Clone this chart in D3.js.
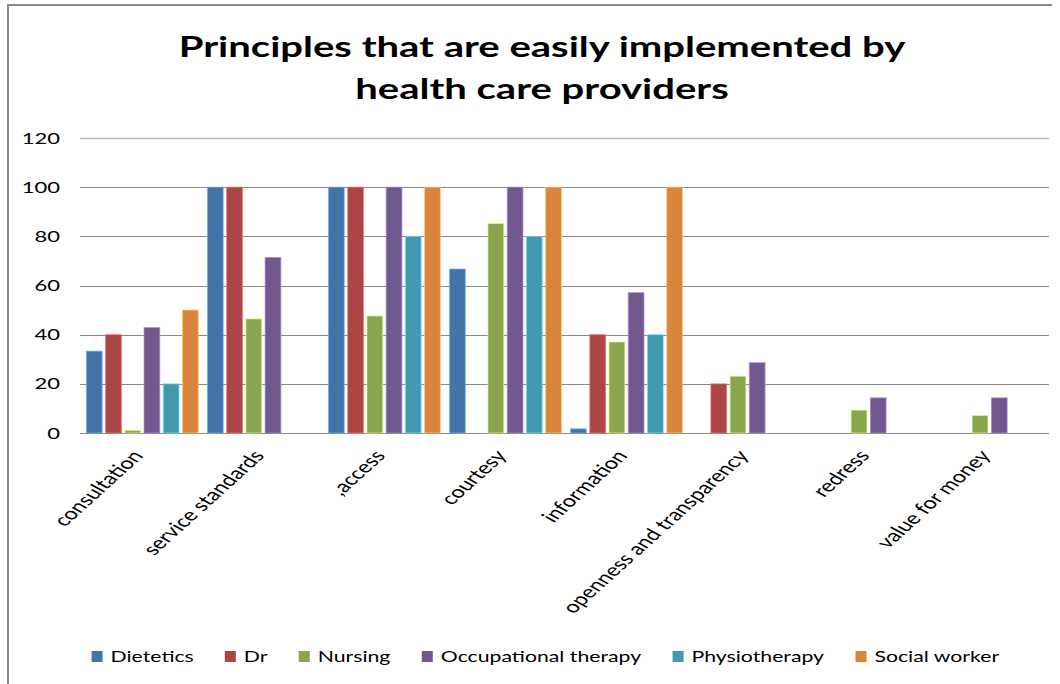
<!DOCTYPE html>
<html>
<head>
<meta charset="utf-8">
<script src="https://cdn.jsdelivr.net/npm/d3@7"></script>
<style>
  html, body { margin: 0; padding: 0; background: #fff; }
  svg { display: block; }
  text { font-family: Lato, "Open Sans", sans-serif; fill: #000; }
</style>
</head>
<body>
<svg id="chart" width="1060" height="684"></svg>
<script>
const titleLines = ["Principles that are easily implemented by", "health care providers"];
const categories = ["consultation", "service standards", ",access", "courtesy", "information", "openness and transparency", "redress", "value for money"];
const seriesNames = ["Dietetics", "Dr", "Nursing", "Occupational therapy", "Physiotherapy", "Social worker"];
const dietetics = [33.3, 100, 100, 66.7, 1.7, 0, 0, 0];
const dr = [40, 100, 100, 0, 40, 20, 0, 0];
const nursing = [1, 46.4, 47.6, 85.2, 37, 23.1, 9.3, 7.1];
const occupational = [42.9, 71.4, 100, 100, 57.1, 28.6, 14.3, 14.3];
const physiotherapy = [20, 0, 80, 80, 40, 0, 0, 0];
const socialWorker = [50, 0, 100, 100, 100, 0, 0, 0];
const yTicks = [0, 20, 40, 60, 80, 100, 120];
const colors = ["#4572A7", "#AA4643", "#89A54E", "#71588F", "#4198AF", "#DB843D"];

const seriesValues = [dietetics, dr, nursing, occupational, physiotherapy, socialWorker];
const SX = 1.42;  // horizontal stretch of the reference's axis text
const SXL = 1.37; // legend stretch
const SXT = 1.38; // title stretch

const svg = d3.select("#chart");

// outer chart border (left and top visible)
svg.append("path").attr("d", "M8,700 L8,5 L1052,5")
  .attr("fill", "none").attr("stroke", "#8a8a8a").attr("stroke-width", 2);

const x0 = d3.scaleBand().domain(categories).range([83, 1049]).paddingInner(0.06).paddingOuter(0.02);
const x1 = d3.scaleBand().domain(seriesNames).range([0, x0.bandwidth()]).paddingInner(0.18).paddingOuter(0.05);
const y = d3.scaleLinear().domain([0, 120]).range([433, 138]);

// gridlines
svg.append("g").selectAll("line").data(yTicks).join("line")
  .attr("x1", 80).attr("x2", 1049)
  .attr("y1", d => Math.round(y(d)) + 0.5).attr("y2", d => Math.round(y(d)) + 0.5)
  .attr("stroke", d => d === 120 ? "#b8b8b8" : "#8a8a8a").attr("stroke-width", d => d === 120 ? 1.5 : 1);

// y tick labels
svg.append("g").selectAll("text").data(yTicks).join("text")
  .attr("transform", d => `translate(60,${y(d) + 5.5}) scale(${SX},1)`)
  .attr("text-anchor", "end").attr("font-size", 15.5)
  .text(d => d);

// bars
const groups = svg.append("g").selectAll("g").data(categories).join("g")
  .attr("transform", d => `translate(${x0(d)},0)`);
groups.selectAll("rect")
  .data((c, ci) => seriesNames.map((s, si) => ({ s, si, v: seriesValues[si][ci] })).filter(d => d.v > 0))
  .join("rect")
  .attr("x", d => x1(d.s))
  .attr("width", x1.bandwidth())
  .attr("y", d => y(d.v))
  .attr("height", d => y(0) - y(d.v))
  .attr("fill", d => colors[d.si])
  .attr("stroke", d => d3.color(colors[d.si]).brighter(1.2).formatHex())
  .attr("stroke-opacity", 0.7)
  .attr("stroke-width", 1);

// x axis labels (rotated)
svg.append("g").selectAll("text").data(categories).join("text")
  .attr("transform", d => `translate(${x0(d) + x0.bandwidth() / 2 + 2},456) scale(${SX},1) rotate(-52)`)
  .attr("text-anchor", "end").attr("font-size", 16.8)
  .text(d => d);

// title
svg.append("g").selectAll("text").data(titleLines).join("text")
  .attr("transform", (d, i) => `translate(542,${57 + i * 42}) scale(${SXT},1)`)
  .attr("text-anchor", "middle").attr("font-size", 29).attr("font-weight", "bold")
  .text(d => d);

// legend
const legend = svg.append("g");
const items = legend.selectAll("g").data(seriesNames).join("g");
items.append("rect").attr("x", 0).attr("y", -11).attr("width", 11).attr("height", 11)
  .attr("fill", (d, i) => colors[i]);
items.append("text")
  .attr("transform", `translate(19,0) scale(${SXL},1)`)
  .attr("font-size", 15.5)
  .text(d => d);
const widths = [];
items.each(function () {
  widths.push(d3.select(this).select("text").node().getBBox().width * SXL);
});
const total = widths.reduce((a, w) => a + 19 + w, 0) + 31 * (widths.length - 1);
let start = 545.5 - total / 2;
items.attr("transform", (d, i) => {
  const t = `translate(${start},662)`;
  start += 19 + widths[i] + 31;
  return t;
});
</script>
</body>
</html>
